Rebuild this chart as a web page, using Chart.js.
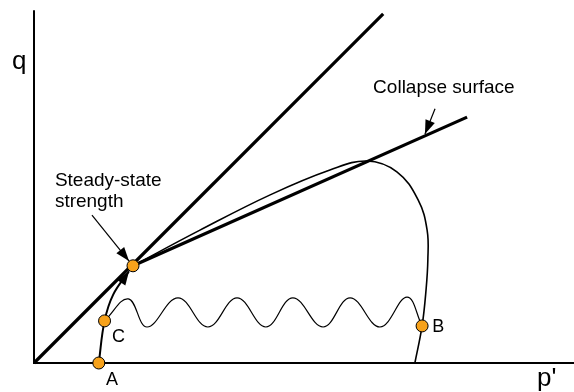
<!DOCTYPE html>
<html>
<head>
<meta charset="utf-8">
<script src="https://cdn.jsdelivr.net/npm/chart.js@4"></script>
<style>
  html, body { margin: 0; padding: 0; background: #fff; }
  canvas { display: block; }
</style>
</head>
<body>
<canvas id="diagram" width="574" height="392"></canvas>
<script>
// axes of the p'-q plane
var axisP = [0, 0, 15];
var axisQ = [9.8, 0, 0];

// steady-state line through the origin
var ssLineP = [0, 9.7];
var ssLineQ = [0, 9.7];

// collapse surface
var collapseP = [2.75, 12.03];
var collapseQ = [2.7, 6.83];

// undrained path A -> C -> steady state
var pathAP = [1.8, 1.96, 2.2, 2.64];
var pathAQ = [0, 1.17, 1.9, 2.55];

// undrained path B -> steady state
var pathBP = [10.58, 10.78, 10.89, 10.94, 10.92, 10.67, 10.08, 9.25, 8.22, 6.56, 4.61, 2.75];
var pathBQ = [0, 1.03, 2.03, 2.86, 3.69, 4.53, 5.31, 5.61, 5.36, 4.67, 3.69, 2.7];

// cyclic path C -> B
var cycleP = [1.96, 2.62, 3.14, 4.0, 4.83, 5.64, 6.44, 7.19, 8.03, 8.78, 9.61, 10.36, 10.78];
var cycleQ = [1.17, 1.78, 1.0, 1.81, 1.0, 1.81, 1.0, 1.81, 1.0, 1.81, 1.0, 1.83, 1.03];

// pointers for the annotations
var ssPointerP = [1.61, 2.64];
var ssPointerQ = [4.11, 2.83];
var colPointerP = [11.14, 10.86];
var colPointerQ = [7.06, 6.36];

// state points A, C, steady state, B
var stateP = [1.8, 1.96, 2.75, 10.78];
var stateQ = [0, 1.17, 2.7, 1.03];

function pts(p, q) {
    return p.map(function (v, i) { return { x: v, y: q[i] } })
}

function line(p, q, width, extra) {
    var ds = {
        data: pts(p, q),
        showLine: true,
        borderColor: '#000',
        borderWidth: width,
        pointRadius: 0,
        fill: false,
        clip: false
    }
    for (var k in extra) ds[k] = extra[k]
    return ds
}

// text placed in data units
var texts = [
    { t: 'q', p: -0.61, q: 8.17, size: 26 },
    { t: "p'", p: 13.97, q: -0.64, size: 26 },
    { t: 'Collapse surface', p: 9.42, q: 7.5, size: 19 },
    { t: 'Steady-state', p: 0.58, q: 4.92, size: 19 },
    { t: 'strength', p: 0.58, q: 4.33, size: 19 },
    { t: 'A', p: 2.0, q: -0.6, size: 18 },
    { t: 'C', p: 2.17, q: 0.58, size: 18 },
    { t: 'B', p: 11.06, q: 0.86, size: 18 }
]

var arrowAndText = {
    id: 'arrowAndText',
    afterDatasetsDraw: function (chart) {
        var ctx = chart.ctx
        chart.data.datasets.forEach(function (ds, i) {
            if (!ds.arrowHead) return
            var meta = chart.getDatasetMeta(i)
            var n = meta.data.length
            var end = meta.data[n - 1], prev = meta.data[n - 2]
            var dx = end.x - prev.x, dy = end.y - prev.y
            var d = Math.sqrt(dx * dx + dy * dy)
            dx /= d; dy /= d
            var len = ds.arrowHead[0], half = ds.arrowHead[1]
            var bx = end.x - dx * len, by = end.y - dy * len
            ctx.save()
            ctx.fillStyle = '#000'
            ctx.beginPath()
            ctx.moveTo(end.x, end.y)
            ctx.lineTo(bx - dy * half, by + dx * half)
            ctx.lineTo(bx + dy * half, by - dx * half)
            ctx.closePath()
            ctx.fill()
            ctx.restore()
        })
        var xs = chart.scales.x, ys = chart.scales.y
        ctx.save()
        ctx.fillStyle = '#000'
        ctx.textBaseline = 'alphabetic'
        ctx.textAlign = 'left'
        texts.forEach(function (l) {
            ctx.font = l.size + 'px "Liberation Sans", Arial, sans-serif'
            ctx.fillText(l.t, xs.getPixelForValue(l.p), ys.getPixelForValue(l.q))
        })
        ctx.restore()
    }
}

var data = {
    datasets: [
        {
            data: pts(stateP, stateQ),
            showLine: false,
            pointRadius: 6,
            pointBackgroundColor: '#f7a21b',
            pointBorderColor: '#000',
            pointBorderWidth: 1,
            clip: false
        },
        line(ssPointerP, ssPointerQ, 1.2, { arrowHead: [14, 5] }),
        line(colPointerP, colPointerQ, 1.2, { arrowHead: [14, 5] }),
        line(pathAP, pathAQ, 2, { tension: 0.4, arrowHead: [14, 5] }),
        line(pathBP, pathBQ, 1.6, { tension: 0.4 }),
        line(cycleP, cycleQ, 1.2, { tension: 0.4 }),
        line(ssLineP, ssLineQ, 3.2),
        line(collapseP, collapseQ, 3.2),
        line(axisP, axisQ, 2)
    ]
}

var options = {
    responsive: false,
    animation: false,
    layout: { autoPadding: false, padding: { left: 34, right: 0, top: 3, bottom: 29 } },
    plugins: { legend: { display: false }, tooltip: { enabled: false } },
    scales: {
        x: { type: 'linear', min: 0, max: 15, display: false },
        y: { type: 'linear', min: 0, max: 10, display: false }
    }
}

var ctx = document.getElementById('diagram').getContext('2d')
new Chart(ctx, { type: 'scatter', data: data, options: options, plugins: [arrowAndText] })
</script>
</body>
</html>
